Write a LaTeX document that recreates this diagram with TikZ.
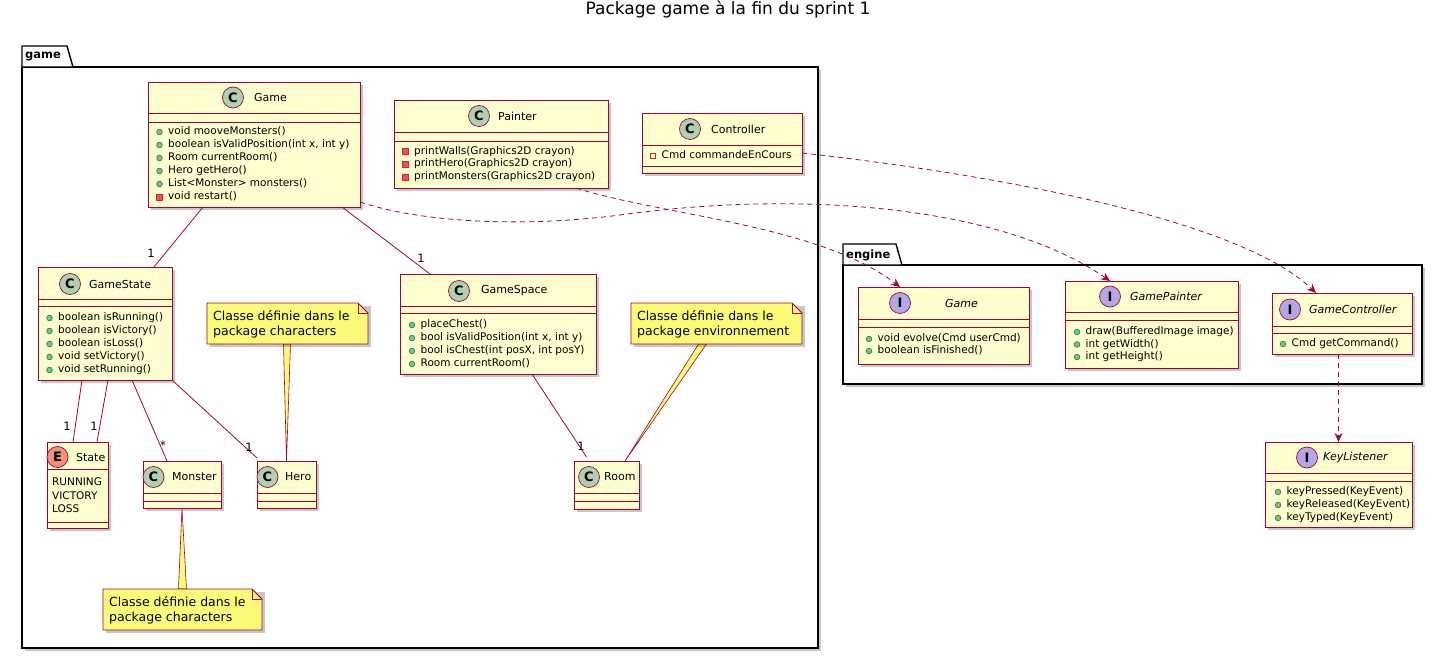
\documentclass[tikz,border=0pt]{standalone}
\usepackage{fontspec}
\setmainfont{DejaVu Sans}
\usetikzlibrary{arrows.meta,shadows,calc}
\definecolor{clsbg}{HTML}{FEFECE}
\definecolor{crim}{HTML}{A80036}
\definecolor{cC}{HTML}{ADD1B2}
\definecolor{cE}{HTML}{EB937F}
\definecolor{cI}{HTML}{B4A7E5}
\definecolor{notebg}{HTML}{FBFB77}
\definecolor{pubF}{HTML}{84BE84}
\definecolor{pubD}{HTML}{038048}
\definecolor{privF}{HTML}{F24D5C}
\definecolor{privD}{HTML}{C82930}
\tikzset{
  shad/.style={drop shadow={shadow xshift=3pt,shadow yshift=-3pt,fill=black,opacity=0.22}},
  cls/.style={rectangle,draw=crim,fill=clsbg,line width=0.9pt,inner sep=0pt,outer sep=0pt,shad},
  sepline/.style={draw=crim,line width=0.9pt},
  ico/.style={circle,draw=crim,line width=0.7pt,minimum size=21pt,inner sep=0pt,
    font=\fontsize{13}{13}\selectfont\bfseries},
  ttl/.style={anchor=west,inner sep=0pt,font=\fontsize{11}{13}\selectfont},
  ittl/.style={anchor=west,inner sep=0pt,font=\fontsize{11}{13}\selectfont\itshape},
  mem/.style={anchor=west,inner sep=0pt,text height=8pt,text depth=2.5pt,font=\fontsize{10.5}{12}\selectfont},
  notetxt/.style={anchor=west,inner sep=0pt,text height=9pt,text depth=3pt,font=\fontsize{12.5}{15}\selectfont},
  notebox/.style={draw=crim,fill=notebg,line width=0.8pt},
  wedge/.style={draw=crim,fill=notebg,line width=0.6pt},
  anchorbox/.style={rectangle,inner sep=0pt,outer sep=0pt},
  pkg/.style={rectangle,draw=black,fill=white,line width=1.4pt,inner sep=0pt,outer sep=0pt,shad},
  pkgline/.style={draw=black,fill=white,line width=1.4pt},
  pkgtxt/.style={anchor=west,inner sep=0pt,font=\fontsize{11.5}{13}\selectfont\bfseries},
  assoc/.style={draw=crim,line width=0.8pt},
  dep/.style={draw=crim,line width=0.8pt,dash pattern=on 5pt off 4pt,
    -{Stealth[length=9pt,width=8pt,inset=3pt]}},
  mult/.style={anchor=base,inner sep=0pt,font=\fontsize{11.5}{13}\selectfont},
}
\newcount\mc
\newcommand\cbox[5]{% name, left, top, right, bottom
  \node[cls,minimum width={(#4-#2)*1pt},minimum height={(#5-#3)*1pt}] (#1) at ({(#2+#4)/2},{(#3+#5)/2}) {};}
\newcommand\hsep[3]{\draw[sepline] (#1,#3) -- (#2,#3);}
\newcommand\pubm[3]{\draw[pubD,fill=pubF,line width=0.6pt] (#1,#2) circle (2.8pt);
  \global\advance\mc by 1 \node[mem] (m\the\mc) at ({#1+8.5},#2) {#3};}
\newcommand\privm[3]{\draw[privD,fill=privF,line width=0.6pt] ({#1-2.8},{#2-2.8}) rectangle ({#1+2.8},{#2+2.8});
  \global\advance\mc by 1 \node[mem] (m\the\mc) at ({#1+8.5},#2) {#3};}
\newcommand\privf[3]{\draw[privD,line width=0.7pt] ({#1-2.8},{#2-2.8}) rectangle ({#1+2.8},{#2+2.8});
  \global\advance\mc by 1 \node[mem] (m\the\mc) at ({#1+8.5},#2) {#3};}
\newcommand\plainm[3]{\global\advance\mc by 1 \node[mem] (m\the\mc) at (#1,#2) {#3};}

\begin{document}
\begin{tikzpicture}[x=1pt,y=-1pt]
\useasboundingbox (0,0) rectangle (1443,658);
\fill[white] (0,0) rectangle (1443,658);

% title
\node[anchor=base,inner sep=0pt,font=\fontsize{17}{20}\selectfont] (title) at (728,15) {Package game à la fin du sprint 1};

% packages
\node[pkg,minimum width=796pt,minimum height=581pt] (pkgGame) at (420,357.5) {};
\draw[pkgline] (22,67) -- (22,46) -- (67,46) -- (73,67) -- cycle;
\node[pkgtxt] (pkgGameLbl) at (25,57) {game};

\node[pkg,minimum width=579pt,minimum height=119pt] (pkgEngine) at (1132.5,324.5) {};
\draw[pkgline] (843,265) -- (843,244) -- (896,244) -- (902,265) -- cycle;
\node[pkgtxt] (pkgEngineLbl) at (846,255) {engine};

% ---------- game classes ----------
\cbox{gameC}{148}{82}{360}{207}
\hsep{148}{360}{113}\hsep{148}{360}{122}
\node[ico,fill=cC] (gameCi) at (233,97.5) {C};
\node[ttl] (gameCt) at (254,97.5) {Game};
\pubm{159.5}{132}{void mooveMonsters()}
\pubm{159.5}{145}{boolean isValidPosition(int x, int y)}
\pubm{159.5}{158}{Room currentRoom()}
\pubm{159.5}{171}{Hero getHero()}
\pubm{159.5}{184}{List<Monster> monsters()}
\privm{159.5}{197}{void restart()}

\cbox{painter}{394}{100}{608}{188}
\hsep{394}{608}{132}\hsep{394}{608}{141}
\node[ico,fill=cC] (painteri) at (479,116) {C};
\node[ttl] (paintert) at (498,116) {Painter};
\privm{405.5}{151.5}{printWalls(Graphics2D crayon)}
\privm{405.5}{164}{printHero(Graphics2D crayon)}
\privm{405.5}{177}{printMonsters(Graphics2D crayon)}

\cbox{controller}{642}{113}{802}{173}
\hsep{642}{802}{145}\hsep{642}{802}{166}
\node[ico,fill=cC] (controlleri) at (690,129) {C};
\node[ttl] (controllert) at (711,129) {Controller};
\privf{653}{156}{Cmd commandeEnCours}

\cbox{gamestate}{38}{267}{172}{380}
\hsep{38}{172}{299}\hsep{38}{172}{306}
\node[ico,fill=cC] (gamestatei) at (70,284) {C};
\node[ttl] (gamestatet) at (89,284) {GameState};
\pubm{49.5}{318}{boolean isRunning()}
\pubm{49.5}{331}{boolean isVictory()}
\pubm{49.5}{344}{boolean isLoss()}
\pubm{49.5}{357}{void setVictory()}
\pubm{49.5}{370}{void setRunning()}

\cbox{state}{47}{442}{108}{528}
\hsep{47}{108}{469}\hsep{47}{108}{522}
\node[ico,fill=cE] (statei) at (57.5,457) {E};
\node[ttl] (statet) at (76,457) {State};
\plainm{52}{483}{RUNNING}
\plainm{52}{497}{VICTORY}
\plainm{52}{510}{LOSS}

\cbox{monster}{143}{461}{221}{508}
\hsep{143}{221}{493}\hsep{143}{221}{501}
\node[ico,fill=cC] (monsteri) at (153.5,477) {C};
\node[ttl] (monstert) at (172,477) {Monster};

\cbox{hero}{257}{461}{316}{508}
\hsep{257}{316}{493}\hsep{257}{316}{501}
\node[ico,fill=cC] (heroi) at (267.5,477) {C};
\node[ttl] (herot) at (285,477) {Hero};

\cbox{gamespace}{400}{274}{596}{374}
\hsep{400}{596}{306}\hsep{400}{596}{313}
\node[ico,fill=cC] (gamespacei) at (459,291) {C};
\node[ttl] (gamespacet) at (481,291) {GameSpace};
\pubm{412}{325}{placeChest()}
\pubm{412}{338}{bool isValidPosition(int x, int y)}
\pubm{412}{351}{bool isChest(int posX, int posY)}
\pubm{412}{364}{Room currentRoom()}

\cbox{room}{574}{461}{639}{509}
\hsep{574}{639}{493}\hsep{574}{639}{501}
\node[ico,fill=cC] (roomi) at (589,477) {C};
\node[ttl] (roomt) at (604,477) {Room};

% ---------- engine interfaces ----------
\cbox{gameI}{858}{287}{1029}{364}
\hsep{858}{1029}{319}\hsep{858}{1029}{327}
\node[ico,fill=cI] (gameIi) at (900,303) {I};
\node[ittl] (gameIt) at (945,303) {Game};
\pubm{869}{339}{void evolve(Cmd userCmd)}
\pubm{869}{351}{boolean isFinished()}

\cbox{gpI}{1065}{281}{1238}{368}
\hsep{1065}{1238}{312}\hsep{1065}{1238}{320}
\node[ico,fill=cI] (gpIi) at (1110,296.5) {I};
\node[ittl] (gpIt) at (1130,296.5) {GamePainter};
\pubm{1077}{332}{draw(BufferedImage image)}
\pubm{1077}{344.5}{int getWidth()}
\pubm{1077}{357}{int getHeight()}

\cbox{gcI}{1272}{293}{1412}{354}
\hsep{1272}{1412}{326}\hsep{1272}{1412}{333}
\node[ico,fill=cI] (gcIi) at (1290,309.5) {I};
\node[ittl] (gcIt) at (1309,309.5) {GameController};
\pubm{1283}{344}{Cmd getCommand()}

\cbox{kl}{1265}{442}{1412}{527}
\hsep{1265}{1412}{473}\hsep{1265}{1412}{481}
\node[ico,fill=cI] (kli) at (1307,457.5) {I};
\node[ittl] (klt) at (1323,457.5) {KeyListener};
\pubm{1278}{492}{keyPressed(KeyEvent)}
\pubm{1278}{505}{keyReleased(KeyEvent)}
\pubm{1278}{518}{keyTyped(KeyEvent)}

% ---------- notes ----------
\node[anchorbox,minimum width=161pt,minimum height=41pt] (heronote) at (287.5,323.5) {};
\node[anchorbox,minimum width=171pt,minimum height=41pt] (envnote) at (716.5,323.5) {};
\node[anchorbox,minimum width=159pt,minimum height=41pt] (monnote) at (182.5,609.5) {};

\filldraw[wedge] ([xshift=-4pt]heronote.south) -- ([xshift=3pt]heronote.south) -- (hero.north) -- cycle;
\filldraw[wedge] ([xshift=-18pt]envnote.south) -- ([xshift=-10pt]envnote.south) -- ([xshift=18.5pt]room.north) -- cycle;
\filldraw[wedge] ([xshift=-4pt]monnote.north) -- ([xshift=4pt]monnote.north) -- (monster.south) -- cycle;

\foreach \n in {heronote,envnote,monnote}{
  \fill[black,opacity=0.22] ([shift={(3pt,-3pt)}]\n.north west) -- ([shift={(3pt,-3pt)}]\n.north east) -- ([shift={(3pt,-3pt)}]\n.south east) -- ([shift={(3pt,-3pt)}]\n.south west) -- cycle;
  \draw[notebox] (\n.north west) -- ([xshift=-10pt]\n.north east) -- ([yshift=-10pt]\n.north east) -- (\n.south east) -- (\n.south west) -- cycle;
  \draw[crim,line width=0.8pt] ([xshift=-10pt]\n.north east) |- ([yshift=-10pt]\n.north east);
}
\node[notetxt] (hn1) at (213,317) {Classe définie dans le};
\node[notetxt] (hn2) at (213,332.5) {package characters};
\node[notetxt] (en1) at (637,317) {Classe définie dans le};
\node[notetxt] (en2) at (637,332.5) {package environnement};
\node[notetxt] (mn1) at (109,603) {Classe définie dans le};
\node[notetxt] (mn2) at (109,618.5) {package characters};

% ---------- associations ----------
\draw[assoc] ([xshift=-51pt]gameC.south) -- ([xshift=49pt]gamestate.north);
\node[mult] (mu1) at (151,257) {1};
\draw[assoc] ([xshift=88pt]gameC.south) -- ([xshift=-68pt]gamespace.north);
\node[mult] (mu2) at (421,262) {1};
\draw[assoc] ([xshift=-23pt]gamestate.south) -- ([xshift=-4.5pt]state.north);
\node[mult] (mu3) at (67,430) {1};
\draw[assoc] ([xshift=3pt]gamestate.south) -- ([xshift=19.5pt]state.north);
\node[mult] (mu4) at (94,430) {1};
\draw[assoc] ([xshift=27pt]gamestate.south) -- ([xshift=-15pt]monster.north);
\node[mult] (mu5) at (163,449) {*};
\draw[assoc] (gamestate.south east) -- ([yshift=3pt]hero.north west);
\node[mult] (mu6) at (249,451) {1};
\draw[assoc] ([xshift=34pt]gamespace.south) -- ([xshift=-20pt,yshift=4pt]room.north);
\node[mult] (mu7) at (581,450) {1};

% ---------- dependencies ----------
\draw[dep] ([yshift=5pt]gameC.south east) .. controls (420,222) and (520,228) .. (620,215)
   .. controls (800,190) and (1000,205) .. ([xshift=-41.5pt]gpI.north);
\draw[dep] ([xshift=75pt]painter.south) .. controls (660,215) and (820,225) .. ([xshift=-43.5pt]gameI.north);
\draw[dep] ([yshift=-10pt]controller.east) .. controls (1000,175) and (1240,220) .. ([xshift=-26pt]gcI.north);
\draw[dep] (gcI.south -| kl.north) -- (kl.north);
\end{tikzpicture}
\end{document}
